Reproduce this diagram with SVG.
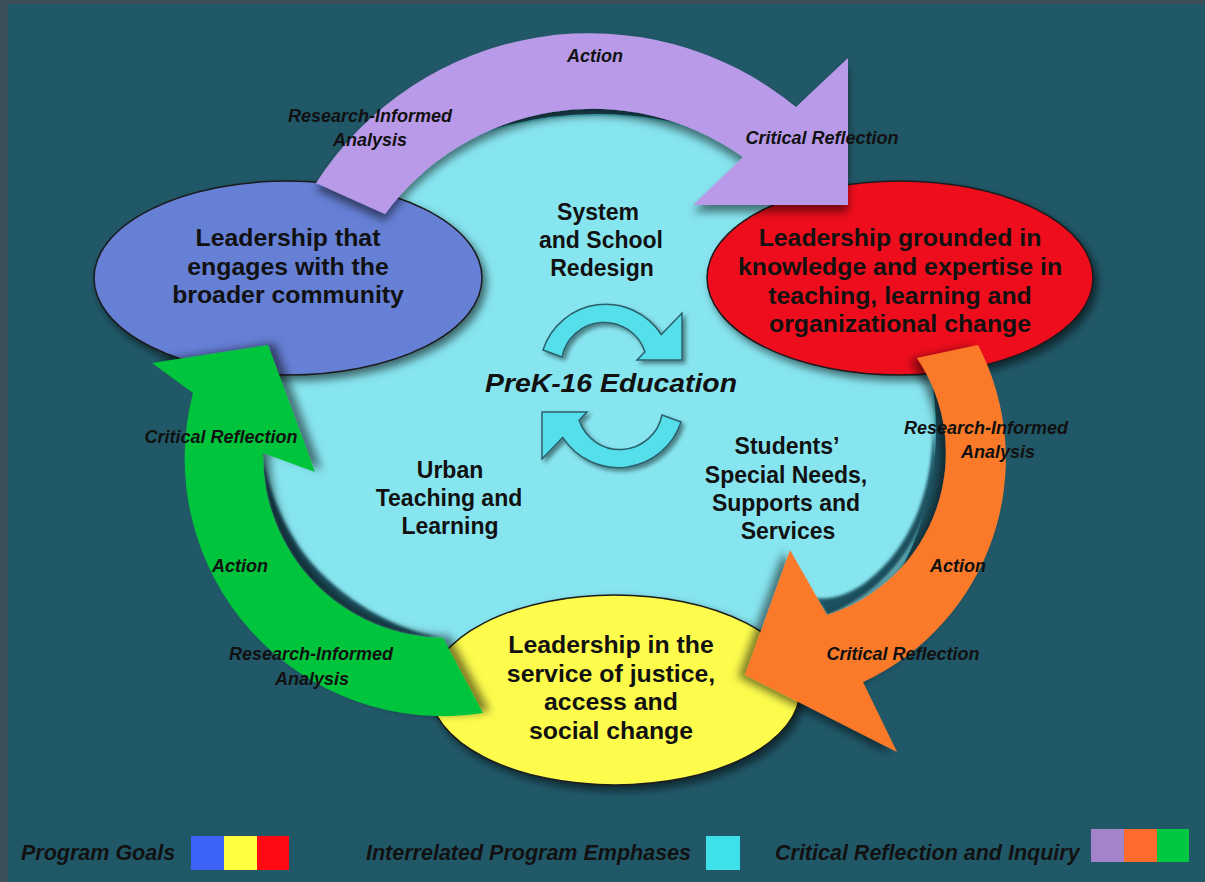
<svg xmlns="http://www.w3.org/2000/svg" width="1205" height="882" viewBox="0 0 1205 882">
<defs>
<style>
.goal{font-family:"Liberation Sans",Arial,sans-serif;font-weight:bold;font-size:23px;fill:#111;text-anchor:middle}
.emph{font-family:"Liberation Sans",Arial,sans-serif;font-weight:bold;font-size:23px;fill:#111;text-anchor:middle}
.lbl{font-family:"Liberation Sans",Arial,sans-serif;font-weight:bold;font-style:italic;font-size:18px;fill:#111;text-anchor:middle}
.leg{font-family:"Liberation Sans",Arial,sans-serif;font-weight:bold;font-style:italic;font-size:21.5px;fill:#111}
.ell{stroke:#1a1a1a;stroke-width:1.5}
.cen{fill:#55dfea;stroke:#2b5f6b;stroke-width:1.5}
</style>
<filter id="shE" x="-20%" y="-20%" width="140%" height="140%"><feDropShadow dx="4" dy="5" stdDeviation="4" flood-color="#000" flood-opacity="0.55"/></filter>
<filter id="shP" x="-20%" y="-20%" width="140%" height="140%"><feDropShadow dx="0" dy="7" stdDeviation="4" flood-color="#000" flood-opacity="0.5"/></filter>
<filter id="shO" x="-20%" y="-20%" width="140%" height="140%"><feDropShadow dx="-7" dy="2" stdDeviation="4" flood-color="#000" flood-opacity="0.5"/></filter>
<filter id="shG" x="-20%" y="-20%" width="140%" height="140%"><feDropShadow dx="7" dy="-2" stdDeviation="4" flood-color="#000" flood-opacity="0.5"/></filter>
<filter id="shC" x="-20%" y="-20%" width="140%" height="140%"><feDropShadow dx="3" dy="3" stdDeviation="2" flood-color="#000" flood-opacity="0.45"/></filter>
<filter id="blur" x="-10%" y="-10%" width="120%" height="120%"><feGaussianBlur stdDeviation="1.5"/></filter>
</defs>

<rect x="0" y="0" width="1205" height="882" fill="#3c4e59"/>
<rect x="8" y="4" width="1197" height="878" fill="#215868"/>

<g id="emphases-circle">
<ellipse cx="597" cy="430" rx="338" ry="315" fill="#87e5f0" stroke="#5fd9e6" stroke-width="2"/>
<path d="M263,453 A182,182 0 0 0 443,638 C400,632 340,600 305,555 C285,528 268,492 263,453 Z" fill="#1e5362" filter="url(#blur)"/>
<path d="M827,615 A170,170 0 0 0 933,430 C932,500 905,555 862,585 C848,594 832,600 816,598 Z" fill="#1e5362" filter="url(#blur)"/>
</g>

<g id="goal-community" filter="url(#shE)">
<ellipse class="ell" cx="288" cy="278" rx="194" ry="97" fill="#6680d6"/>
</g>
<g id="goal-knowledge" filter="url(#shE)">
<ellipse class="ell" cx="900" cy="278" rx="193" ry="97" fill="#ee0a1e"/>
</g>
<g id="goal-justice" filter="url(#shE)">
<ellipse class="ell" cx="615" cy="690" rx="185" ry="95" fill="#fdfc4e"/>
</g>

<g id="connectors">
<path id="arrow-purple" filter="url(#shP)" fill="#b99ae9" d="M316,183 A325,325 0 0 1 796,107 L848,58 L848,205 L693,205 L743,157 A258,258 0 0 0 385,214 Z"/>
<path id="arrow-orange" filter="url(#shO)" fill="#fa7a2b" d="M978,345 A246,246 0 0 1 863,682 L897,752 L745,675 L790,550 L827,615 A170,170 0 0 0 917,358 Z"/>
<path id="arrow-green" filter="url(#shG)" fill="#05c43b" d="M483,713 A258,258 0 0 1 193,393 L152,363 L268,345 L315,472 L263,453 A182,182 0 0 0 443,638 Z"/>
<g id="center-arrows" filter="url(#shC)">
<path class="cen" d="M543,350 A66,66 0 0 1 661.3,334.6 L682,313 L682,360 L637,360 L644.9,351.7 A43,43 0 0 0 562,357 Z"/>
<path class="cen" transform="rotate(180 612 386)" d="M543,350 A66,66 0 0 1 661.3,334.6 L682,313 L682,360 L637,360 L644.9,351.7 A43,43 0 0 0 562,357 Z"/>
</g>
</g>

<g id="labels-purple">
<text class="lbl" x="595" y="62">Action</text>
<text class="lbl" x="370" y="122">Research-Informed</text>
<text class="lbl" x="370" y="146">Analysis</text>
<text class="lbl" x="822" y="144">Critical Reflection</text>
</g>
<g id="labels-orange">
<text class="lbl" x="986" y="434">Research-Informed</text>
<text class="lbl" x="998" y="458">Analysis</text>
<text class="lbl" x="958" y="572">Action</text>
<text class="lbl" x="903" y="660">Critical Reflection</text>
</g>
<g id="labels-green">
<text class="lbl" x="221" y="443">Critical Reflection</text>
<text class="lbl" x="240" y="572">Action</text>
<text class="lbl" x="311" y="660">Research-Informed</text>
<text class="lbl" x="312" y="685">Analysis</text>
</g>

<g id="text-community" transform="translate(288 0) scale(1.08 1)">
<text class="goal" x="0" y="246">Leadership that</text>
<text class="goal" x="0" y="275">engages with the</text>
<text class="goal" x="0" y="303">broader community</text>
</g>
<g id="text-knowledge" transform="translate(900 0) scale(1.08 1)">
<text class="goal" x="0" y="246">Leadership grounded in</text>
<text class="goal" x="0" y="275">knowledge and expertise in</text>
<text class="goal" x="0" y="304">teaching, learning and</text>
<text class="goal" x="0" y="332">organizational change</text>
</g>
<g id="text-justice" transform="translate(611 0) scale(1.08 1)">
<text class="goal" x="0" y="653">Leadership in the</text>
<text class="goal" x="0" y="682">service of justice,</text>
<text class="goal" x="0" y="710">access and</text>
<text class="goal" x="0" y="739">social change</text>
</g>

<g id="emphasis-system">
<text class="emph" x="598" y="220">System</text>
<text class="emph" x="601" y="248">and School</text>
<text class="emph" x="602" y="276">Redesign</text>
</g>
<g id="emphasis-prek">
<text x="611" y="392" font-family="Liberation Sans, Arial, sans-serif" font-weight="bold" font-style="italic" font-size="26" fill="#111" text-anchor="middle" textLength="252" lengthAdjust="spacingAndGlyphs">PreK-16 Education</text>
</g>
<g id="emphasis-urban">
<text class="emph" x="450" y="478">Urban</text>
<text class="emph" x="449" y="506">Teaching and</text>
<text class="emph" x="450" y="534">Learning</text>
</g>
<g id="emphasis-students">
<text class="emph" x="787" y="454">Students’</text>
<text class="emph" x="786" y="483">Special Needs,</text>
<text class="emph" x="786" y="511">Supports and</text>
<text class="emph" x="788" y="539">Services</text>
</g>

<g id="legend">
<text class="leg" x="21" y="860">Program Goals</text>
<rect x="191" y="836" width="33" height="34" fill="#3d63f7"/>
<rect x="224" y="836" width="33" height="34" fill="#ffff40"/>
<rect x="257" y="836" width="32" height="34" fill="#ff0a12"/>
<text class="leg" x="366" y="860">Interrelated Program Emphases</text>
<rect x="706" y="836" width="34" height="34" fill="#3ee0ea"/>
<text class="leg" x="775" y="860">Critical Reflection and Inquiry</text>
<rect x="1091" y="829" width="33" height="33" fill="#a483cb"/>
<rect x="1124" y="829" width="33" height="33" fill="#ff6b2c"/>
<rect x="1157" y="829" width="32" height="33" fill="#00c842"/>
</g>
</svg>
